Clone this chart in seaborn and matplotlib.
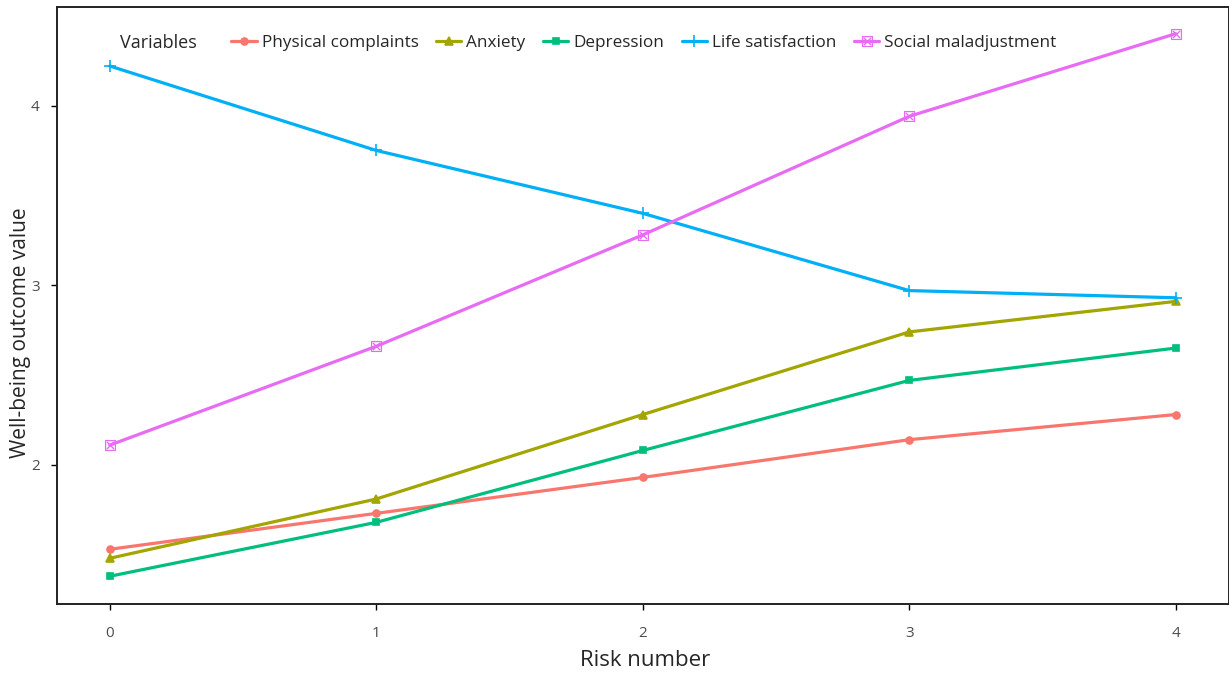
import numpy as np
import pandas as pd
import matplotlib
matplotlib.use('Agg')
import matplotlib.pyplot as plt
import seaborn as sns

# Values
risk = [0, 1, 2, 3, 4]
physical = [1.53, 1.73, 1.93, 2.14, 2.28]
anxiety = [1.48, 1.81, 2.28, 2.74, 2.91]
depression = [1.38, 1.68, 2.08, 2.47, 2.65]
life_sat = [4.22, 3.75, 3.40, 2.97, 2.93]
social = [2.11, 2.66, 3.28, 3.94, 4.40]

variables = ['Physical complaints', 'Anxiety', 'Depression',
             'Life satisfaction', 'Social maladjustment']
series = [physical, anxiety, depression, life_sat, social]

colors = ['#F8766D', '#A3A500', '#00BF7D', '#00B0F6', '#E76BF3']
markers = ['o', '^', 's', '+', r'$\boxtimes$']
msizes = [5, 6, 5, 8, 8]
mews = [1.2, 1.2, 1.2, 1.2, 0]

sns.set_style('white')
plt.rcParams['font.family'] = ['Open Sans', 'DejaVu Sans']

fig = plt.figure(figsize=(12.29, 6.74), dpi=100)
ax = fig.add_axes([0.046, 0.104, 0.954, 0.886])

# one lineplot per variable (filled and line-art markers can't be mixed)
for name, vals, c, m, ms, mew in zip(variables, series, colors, markers, msizes, mews):
    sns.lineplot(x=risk, y=vals, color=c, marker=m, markersize=ms,
                 markeredgewidth=mew, markeredgecolor=c,
                 linewidth=2.3, label=name, ax=ax)

ax.set_xlim(-0.2, 4.2)
ax.set_ylim(1.226, 4.55)
ax.set_xticks(risk)
ax.set_yticks([2, 3, 4])
ax.tick_params(axis='both', length=4, width=1, color='black',
               labelcolor='#4d4d4d', labelsize=11, direction='out',
               bottom=True, left=True, pad=12)
ax.tick_params(axis='y', pad=8)
for s in ax.spines.values():
    s.set_color('#222222')
    s.set_linewidth(1.4)

ax.set_xlabel('Risk number', fontsize=16)
ax.xaxis.set_label_coords(0.502, -0.078)
ax.set_ylabel('Well-being outcome value', fontsize=15)
ax.yaxis.set_label_coords(-0.022, 0.455)

ax.text(0.054, 0.94, 'Variables', transform=ax.transAxes,
        fontsize=13, va='center', ha='left')
ax.legend(loc='center left', bbox_to_anchor=(0.143, 0.94), ncol=5,
          frameon=False, fontsize=12.3, handlelength=1.5,
          handletextpad=0.3, columnspacing=1.0, borderaxespad=0)

fig.savefig('out.png', dpi=100)
